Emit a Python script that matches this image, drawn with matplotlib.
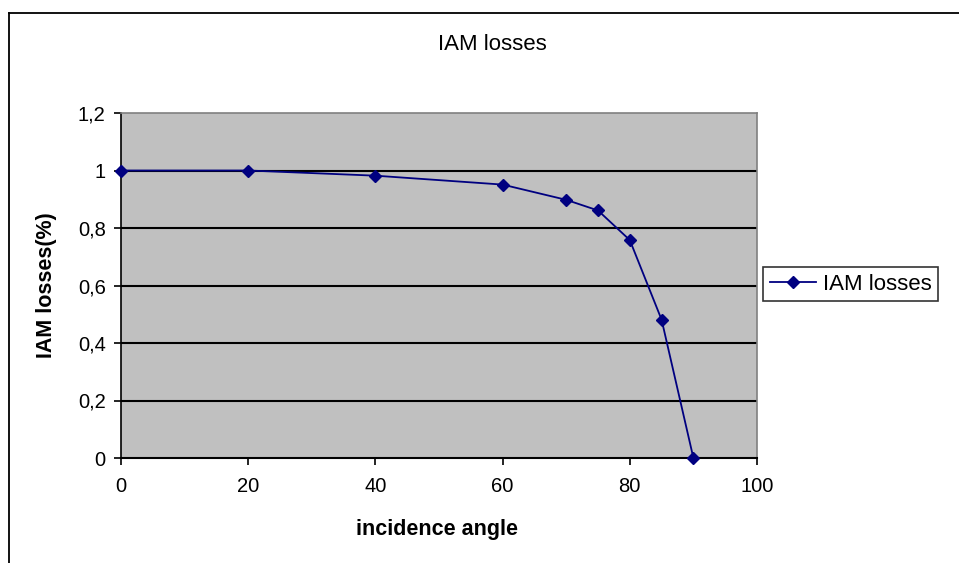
import matplotlib
matplotlib.use("Agg")
import matplotlib.pyplot as plt
from matplotlib.lines import Line2D

angles = [0, 20, 40, 60, 70, 75, 80, 85, 90]
iam = [1.0, 1.0, 0.982, 0.951, 0.898, 0.861, 0.758, 0.481, 0.0]
x_ticks = [0, 20, 40, 60, 80, 100]
y_ticks = [0, 0.2, 0.4, 0.6, 0.8, 1.0, 1.2]
y_tick_labels = ["0", "0,2", "0,4", "0,6", "0,8", "1", "1,2"]

plt.rcParams['font.family'] = ['Liberation Sans', 'DejaVu Sans']

W, H = 959, 563
fig = plt.figure(figsize=(W / 100, H / 100), dpi=100)
fig.patch.set_facecolor('white')

# outer chart border (top and left visible)
fig.add_artist(Line2D([9 / W, 1.0], [1 - 13 / H, 1 - 13 / H], color='black', lw=1.3, transform=fig.transFigure))
fig.add_artist(Line2D([9 / W, 9 / W], [0, 1 - 13 / H], color='black', lw=1.3, transform=fig.transFigure))

l, r, t, b = 121, 757, 113, 458
ax = fig.add_axes([l / W, 1 - b / H, (r - l) / W, (b - t) / H])
ax.set_facecolor('#C0C0C0')

for yv in y_ticks[1:-1]:
    ax.axhline(yv, color='black', lw=1.5, zorder=1)

ax.plot(angles, iam, color='#000080', lw=1.3, marker='D', markersize=6,
        markerfacecolor='#000080', markeredgecolor='#000080', label='IAM losses', zorder=3, clip_on=False)

ax.set_xlim(0, 100)
ax.set_ylim(0, 1.2)
ax.set_xticks(x_ticks)
ax.set_xticklabels([str(v) for v in x_ticks])
ax.set_yticks(y_ticks)
ax.set_yticklabels(y_tick_labels)
ax.tick_params(axis='both', direction='out', length=5, width=1.2, colors='black', labelsize=14.5)
ax.tick_params(axis='x', pad=9)
ax.tick_params(axis='y', pad=6)

ax.spines['left'].set_color('black')
ax.spines['bottom'].set_color('black')
ax.spines['left'].set_linewidth(1.2)
ax.spines['bottom'].set_linewidth(1.5)
ax.spines['top'].set_color('#808080')
ax.spines['right'].set_color('#808080')
ax.spines['top'].set_linewidth(1.2)
ax.spines['right'].set_linewidth(1.2)

fig.text(492 / W, 1 - 45 / H, 'IAM losses', ha='center', va='center', fontsize=16)
fig.text(437 / W, 1 - 530 / H, 'incidence angle', ha='center', va='center', fontsize=15.5, fontweight='bold')
fig.text(47 / W, 1 - 285 / H, 'IAM losses(%)', ha='center', va='center', fontsize=15.5,
         fontweight='bold', rotation=90)

leg = ax.legend(loc='center left', bbox_to_anchor=(763 / W, 1 - 284 / H), bbox_transform=fig.transFigure,
                fancybox=False, frameon=True, edgecolor='black', fontsize=16, handlelength=2.1,
                borderpad=0.3, handletextpad=0.3, borderaxespad=0)
leg.get_frame().set_linewidth(1.2)

fig.savefig('out.png', dpi=100)
